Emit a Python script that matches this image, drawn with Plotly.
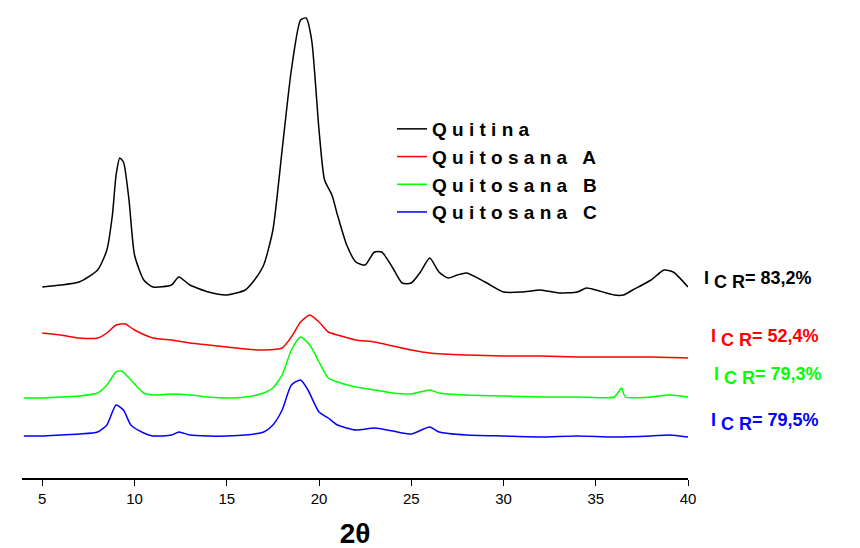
import plotly.graph_objects as go

# y values are in display units (larger = lower on the chart), stacked curves
qx = [5,6,7,8,8.5,8.8,9,9.2,9.4,9.7,10,10.5,11,12,12.4,13,14,15,16,16.5,17,17.5,18,18.5,19,19.3,19.6,20,20.3,20.7,21,21.5,22,22.5,23,23.4,24,24.5,25,25.5,26,26.5,27,27.5,28,29,30,31,32,33,34,34.5,35,36,36.5,37,38,38.7,39.2,40]
qy = [287,285,282,270,250,215,175,158,162,200,255,280,287,285,277,285,292,295,290,280,265,230,150,70,20,18,40,130,180,195,215,245,262,265,252,252,268,283,283,272,258,272,278,275,273,282,292,292,290,293,292,288,290,295,295,290,280,270,272,287]
ax = [5,6,7,8,8.5,9,9.5,10,11,12,13,14,15,16,17,18,18.5,19,19.5,20,20.5,21,22,23,24,25,26,28,30,32,34,36,38,40]
ay = [333,335,338,338,333,325,324,330,338,340,343,345,347,349,350,348,337,322,315,322,332,335,340,342,346,350,353,355,356,356,357,357,357,358]
bx = [4,5,6,7,8,8.5,9,9.3,9.8,10.5,11,12,13,14,15,16,17,17.5,18,18.5,19,19.5,20,20.5,21,22,23,24,25,26,26.5,28,30,32,34,36,36.4,36.6,38,39,40]
by = [398,398,397,396,393,385,372,371,380,393,395,394,395,397,398,397,393,388,375,350,337,345,362,378,382,387,390,393,394,390,393,395,396,397,397,397,388,397,397,395,397]
cx = [4,5,6,7,8,8.5,9,9.4,9.8,10.5,11,12,12.4,13,14,15,16,17,17.5,18,18.5,19,19.4,20,20.5,21,22,23,24,25,26,26.5,28,30,32,34,36,38,39,40]
cy = [436,436,435,434,432,425,405,410,425,433,436,435,432,435,436,436,435,432,425,410,385,380,390,412,418,425,430,428,431,434,427,432,435,436,437,436,437,436,435,437]

names = ["Q u i t i n a", "Q u i t o s a n a   A", "Q u i t o s a n a   B", "Q u i t o s a n a   C"]
colors = ["#000000", "#ff0000", "#00ff00", "#0000ff"]
labels = ["I <sub><span style='font-size:18px'>C R</span></sub>= 83,2%",
          "I <sub><span style='font-size:18px'>C R</span></sub>= 52,4%",
          "I <sub><span style='font-size:18px'>C R</span></sub>= 79,3%",
          "I <sub><span style='font-size:18px'>C R</span></sub>= 79,5%"]
label_pos = [(702, 280), (709, 352), (712, 390), (709, 436)]

L, T, W, H = 14, 8, 666, 470  # plot area in page px (page has 8px offset)

fig = go.Figure()
for x, y, n, c in zip([qx, ax, bx, cx], [qy, ay, by, cy], names, colors):
    fig.add_trace(go.Scatter(x=x, y=y, mode="lines", name=n, line=dict(color=c, width=1.5, shape="spline", smoothing=0.6)))

for (px, py), t, c in zip(label_pos, labels, colors):
    fig.add_annotation(x=(px - 22) / W, y=1 - (py - T) / H, xref="paper", yref="paper",
                       text=t, showarrow=False, xanchor="left",
                       font=dict(family="Arial", size=18, color=c, weight="bold"))

fig.update_layout(
    width=860, height=548, margin=dict(l=L, r=860 - L - W, t=0, b=548 - H),
    plot_bgcolor="white", paper_bgcolor="white",
    legend=dict(x=(392 - 22) / W, y=1 - (110 - T) / H,
                font=dict(family="Arial", size=19, color="black", weight="bold"),
                bgcolor="rgba(0,0,0,0)", tracegroupgap=0),
    xaxis=dict(range=[3.9, 40], tickvals=[5,10,15,20,25,30,35,40], showline=True, linecolor="black",
               linewidth=1.5, ticks="outside", ticklen=6, tickcolor="black", showgrid=False, zeroline=False,
               tickfont=dict(family="Arial", size=15, color="black"),
               title=dict(text="2θ", font=dict(family="Arial", size=28, color="black", weight="bold"), standoff=18)),
    yaxis=dict(range=[478, 8], visible=False, showgrid=False, zeroline=False),
)
fig.write_html("out.html")
